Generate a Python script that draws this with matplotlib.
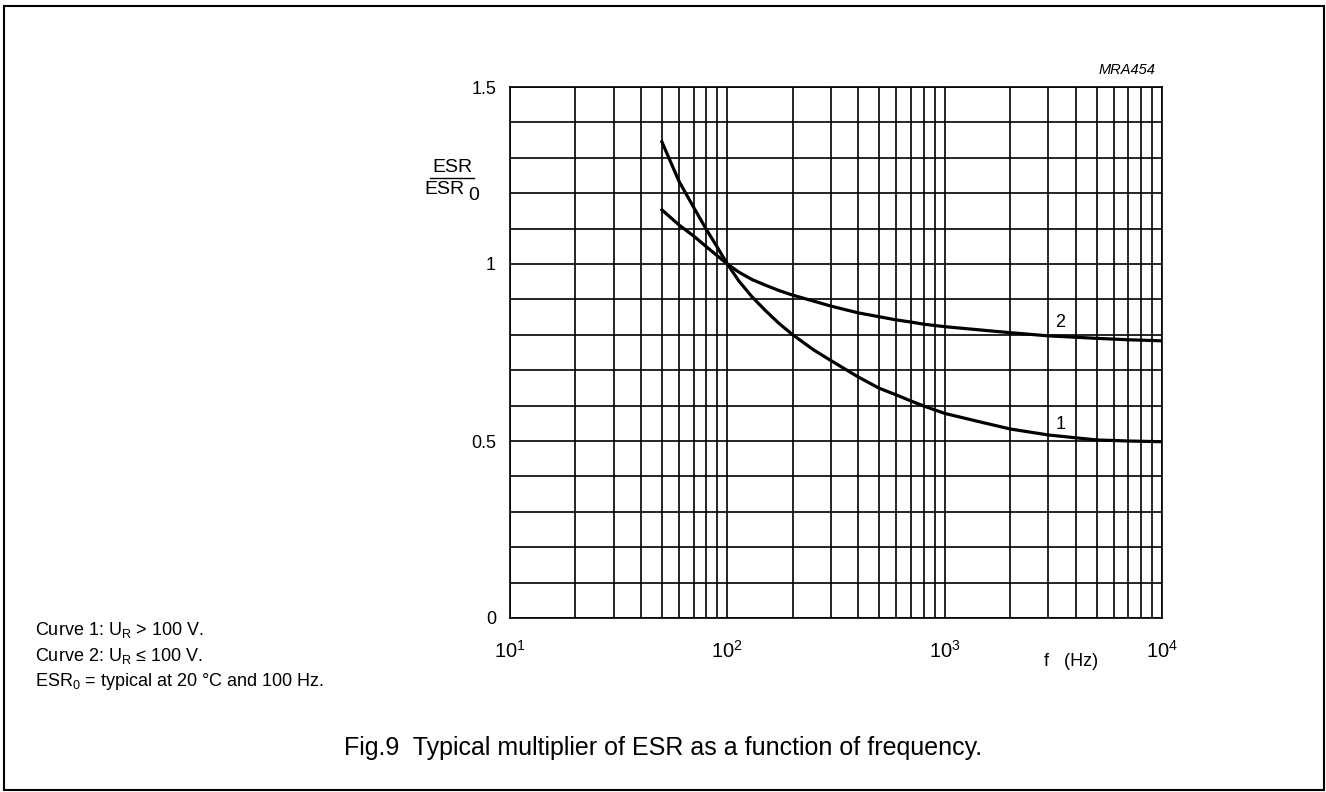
import matplotlib.pyplot as plt
from matplotlib.patches import Rectangle
from matplotlib.lines import Line2D

plt.rcParams['font.family'] = ['Liberation Sans', 'DejaVu Sans']
plt.rcParams['mathtext.fontset'] = 'custom'
plt.rcParams['mathtext.rm'] = 'Liberation Sans'
plt.rcParams['mathtext.it'] = 'Liberation Sans:italic'

# values
freq = [50, 60, 70, 80, 90, 100, 113, 130, 150, 173, 200, 250, 300, 400, 500,
        600, 700, 800, 1000, 1500, 2000, 3000, 5000, 7000, 10000]
curve1 = [1.345, 1.233, 1.160, 1.098, 1.047, 1.0, 0.952, 0.907, 0.868, 0.832,
          0.800, 0.757, 0.727, 0.681, 0.649, 0.630, 0.613, 0.599, 0.578, 0.552,
          0.534, 0.517, 0.503, 0.500, 0.498]
curve2 = [1.153, 1.110, 1.079, 1.049, 1.023, 1.0, 0.977, 0.956, 0.940, 0.925,
          0.912, 0.895, 0.881, 0.862, 0.851, 0.842, 0.836, 0.830, 0.823, 0.813,
          0.806, 0.797, 0.790, 0.786, 0.783]

xtick_vals = [10, 100, 1000, 10000]
xtick_labels = ['$10^1$', '$10^2$', '$10^3$', '$10^4$']
ytick_vals = [0, 0.5, 1, 1.5]
ytick_labels = ['0', '0.5', '1', '1.5']

fig = plt.figure(figsize=(13.26, 7.92), dpi=100)
ax = fig.add_axes([510 / 1326, 1 - 618 / 792, 652 / 1326, 531 / 792])

ax.plot(freq, curve1, color='black', lw=2.3, solid_joinstyle='round')
ax.plot(freq, curve2, color='black', lw=2.3, solid_joinstyle='round')

ax.set_xscale('log')
ax.set_xlim(10, 10000)
ax.set_ylim(0, 1.5)
ax.set_xticks(xtick_vals)
ax.set_xticklabels(xtick_labels, fontsize=14.5)
ax.set_yticks(ytick_vals)
ax.set_yticklabels(ytick_labels, fontsize=13)
ax.set_yticks([i / 10 for i in range(16)], minor=True)
ax.tick_params(which='both', length=0)
ax.tick_params(axis='x', pad=16)
ax.tick_params(axis='y', pad=10)
ax.grid(True, which='both', color='black', lw=1.2)
ax.set_axisbelow(True)
for s in ax.spines.values():
    s.set_linewidth(1.2)

ax.text(3400, 0.81, '2', fontsize=13, ha='center', va='bottom')
ax.text(3400, 0.522, '1', fontsize=13, ha='center', va='bottom')

# y label as a fraction
fig.text(452 / 1326, 1 - 167 / 792, 'ESR', fontsize=14, ha='center', va='center')
fig.add_artist(Line2D([430 / 1326, 474 / 1326], [1 - 178 / 792, 1 - 178 / 792],
                      color='black', lw=1))
fig.text(465 / 1326, 1 - 189 / 792, 'ESR', fontsize=14, ha='right', va='center')
fig.text(468 / 1326, 1 - 195 / 792, '0', fontsize=14, ha='left', va='center')

fig.text(1071 / 1326, 1 - 662 / 792, 'f   (Hz)', fontsize=13, ha='center', va='center')
fig.text(1155 / 1326, 1 - 70 / 792, 'MRA454', fontsize=10.5, style='italic',
         ha='right', va='center')

fig.text(35 / 1326, 1 - 630 / 792, 'Curve 1: U$_\\mathrm{R}$ > 100 V.', fontsize=13, va='center')
fig.text(35 / 1326, 1 - 656 / 792, 'Curve 2: U$_\\mathrm{R}$ \u2264 100 V.', fontsize=13, va='center')
fig.text(35 / 1326, 1 - 682 / 792, 'ESR$_0$ = typical at 20 \u00b0C and 100 Hz.', fontsize=13, va='center')

fig.text(663 / 1326, 1 - 748 / 792, 'Fig.9  Typical multiplier of ESR as a function of frequency.',
         fontsize=18, ha='center', va='center')

fig.add_artist(Rectangle((4 / 1326, 2 / 792), 1320 / 1326, 784 / 792,
                         fill=False, edgecolor='black', lw=1.5,
                         transform=fig.transFigure))

fig.savefig('out.png', dpi=100)
